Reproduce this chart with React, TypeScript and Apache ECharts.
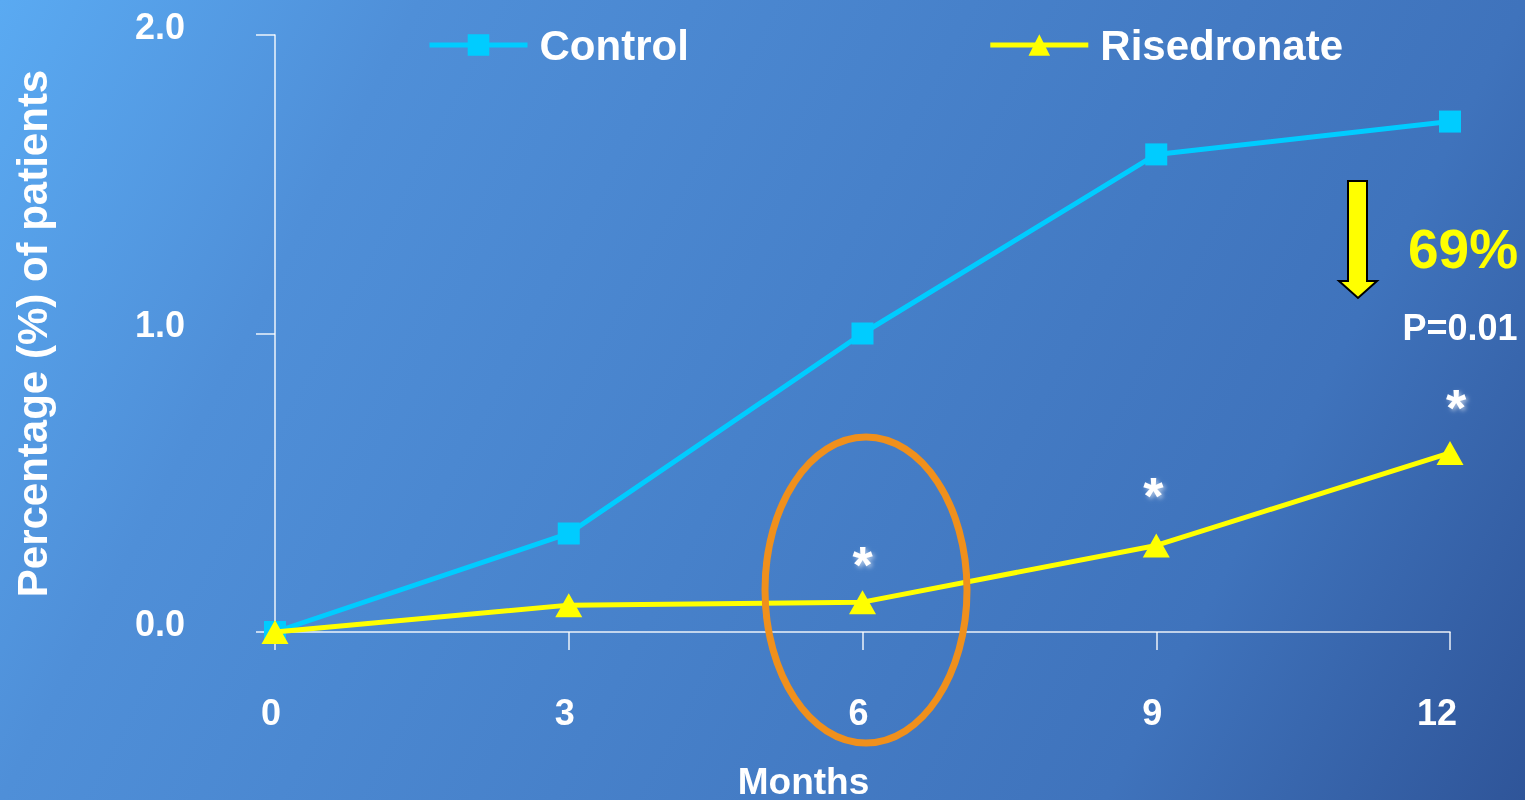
import React, { useEffect, useRef } from "react";
import * as echarts from "echarts";

// Months since start of treatment
const months = [0, 3, 6, 9, 12];
// Cumulative percentage of patients with an event
const controlValues = [0, 0.33, 1.0, 1.6, 1.71];
const risedronateValues = [0, 0.09, 0.1, 0.29, 0.6];
// Time points where the difference is statistically significant
const significant = [false, false, true, true, true];
// Y-axis range and tick step
const yMin = 0;
const yMax = 2;
const yStep = 1;

const FONT = "'Liberation Sans', Arial, Helvetica, sans-serif";
const WHITE = "#ffffff";
const CYAN = "#00CCFF";
const YELLOW = "#FFFF00";

// Label nudges for the significance stars (dx, dy)
const starOffsets: Array<[number, number]> = [
  [0, 0],
  [0, 0],
  [0, -37],
  [-3, -49],
  [6, -45],
];

export default function App() {
  const ref = useRef<HTMLDivElement>(null);

  useEffect(() => {
    if (!ref.current) return;
    const chart = echarts.init(ref.current, null, { renderer: "svg" });

    const controlData = months.map((m, i) => [m, controlValues[i]]);
    const risedronateData = months.map((m, i) =>
      significant[i]
        ? {
            value: [m, risedronateValues[i]],
            label: {
              show: true,
              position: "inside",
              formatter: "*",
              offset: starOffsets[i],
              color: WHITE,
              fontFamily: FONT,
              fontWeight: "bold",
              fontSize: 52,
              textShadowColor: "rgba(255,255,255,0.55)",
              textShadowBlur: 4,
              textShadowOffsetX: 2,
              textShadowOffsetY: 2,
            },
          }
        : { value: [m, risedronateValues[i]] }
    );

    const tickLabel = {
      color: WHITE,
      fontFamily: FONT,
      fontWeight: "bold" as const,
      fontSize: 36,
    };

    chart.setOption({
      animation: false,
      graphic: [
        {
          type: "rect",
          z: -10,
          silent: true,
          shape: { x: 0, y: 0, width: 1525, height: 800 },
          style: {
            fill: new echarts.graphic.LinearGradient(
              0,
              0,
              1525,
              800,
              [
                { offset: 0, color: "#5AAAF2" },
                { offset: 0.216, color: "#4F8FD8" },
                { offset: 0.784, color: "#3F73BC" },
                { offset: 1, color: "#2F5599" },
              ],
              true
            ),
          },
        },
        {
          type: "ellipse",
          z: 10,
          silent: true,
          shape: { cx: 866, cy: 590, rx: 101, ry: 153 },
          style: { fill: "none", stroke: "#F0901C", lineWidth: 7 },
        },
        {
          type: "polygon",
          z: 10,
          silent: true,
          shape: {
            points: [
              [1348, 181],
              [1367, 181],
              [1367, 281],
              [1377, 281],
              [1358, 298],
              [1339, 281],
              [1348, 281],
            ],
          },
          style: { fill: YELLOW, stroke: "#000000", lineWidth: 2 },
        },
        {
          type: "text",
          z: 10,
          silent: true,
          x: 1463,
          y: 249,
          style: {
            text: "69%",
            fill: YELLOW,
            font: `bold 55px ${FONT}`,
            align: "center",
            verticalAlign: "middle",
          },
        },
        {
          type: "text",
          z: 10,
          silent: true,
          x: 1460,
          y: 327,
          style: {
            text: "P=0.01",
            fill: WHITE,
            font: `bold 36px ${FONT}`,
            align: "center",
            verticalAlign: "middle",
          },
        },
      ],
      legend: {
        left: 427,
        top: 24,
        padding: 0,
        itemWidth: 98,
        itemHeight: 27,
        itemGap: 299,
        data: ["Control", "Risedronate"],
        lineStyle: { width: 5 },
        textStyle: {
          color: WHITE,
          fontFamily: FONT,
          fontWeight: "bold",
          fontSize: 42,
          padding: [0, 0, 0, 7],
        },
      },
      grid: {
        left: 275,
        right: 75,
        top: 35,
        bottom: 168,
        outerBoundsMode: "none",
        containLabel: false,
      },
      xAxis: {
        type: "value",
        min: 0,
        max: 12,
        interval: 3,
        name: "Months",
        nameLocation: "middle",
        nameGap: 134,
        nameTextStyle: {
          color: WHITE,
          fontFamily: FONT,
          fontWeight: "bold",
          fontSize: 37,
          lineHeight: 30,
          padding: [0, 118, 0, 0],
        },
        axisLine: { show: true, lineStyle: { color: "rgba(255,255,255,0.9)", width: 1.5 } },
        axisTick: { show: true, length: 18, lineStyle: { color: "rgba(255,255,255,0.9)", width: 1.5 } },
        splitLine: { show: false },
        axisLabel: {
          ...tickLabel,
          margin: 62,
          formatter: (v: number) => (v >= 10 ? `{wide|${v}}` : `{narrow|${v}}`),
          rich: {
            narrow: { ...tickLabel, padding: [0, 8, 0, 0] },
            wide: { ...tickLabel, padding: [0, 26, 0, 0] },
          },
        },
      },
      yAxis: {
        type: "value",
        min: yMin,
        max: yMax,
        interval: yStep,
        name: "Percentage (%) of patients",
        nameLocation: "middle",
        nameRotate: 90,
        nameGap: 222,
        nameTextStyle: {
          color: WHITE,
          fontFamily: FONT,
          fontWeight: "bold",
          fontSize: 42,
        },
        axisLine: { show: true, lineStyle: { color: "rgba(255,255,255,0.9)", width: 1.5 } },
        axisTick: { show: true, length: 19, lineStyle: { color: "rgba(255,255,255,0.9)", width: 1.5 } },
        splitLine: { show: false },
        axisLabel: {
          ...tickLabel,
          margin: 90,
          verticalAlign: "bottom",
          lineHeight: 18,
          formatter: (v: number) => v.toFixed(1),
        },
      },
      series: [
        {
          name: "Control",
          type: "line",
          data: controlData,
          symbol: "rect",
          symbolSize: 22,
          lineStyle: { color: CYAN, width: 5 },
          itemStyle: { color: CYAN },
          z: 3,
        },
        {
          name: "Risedronate",
          type: "line",
          data: risedronateData,
          symbol: "triangle",
          symbolSize: [27, 24],
          lineStyle: { color: YELLOW, width: 5 },
          itemStyle: { color: YELLOW },
          z: 4,
        },
      ],
    });

    return () => chart.dispose();
  }, []);

  return (
    <div
      ref={ref}
      style={{ position: "fixed", left: 0, top: 0, width: 1525, height: 800 }}
    />
  );
}
